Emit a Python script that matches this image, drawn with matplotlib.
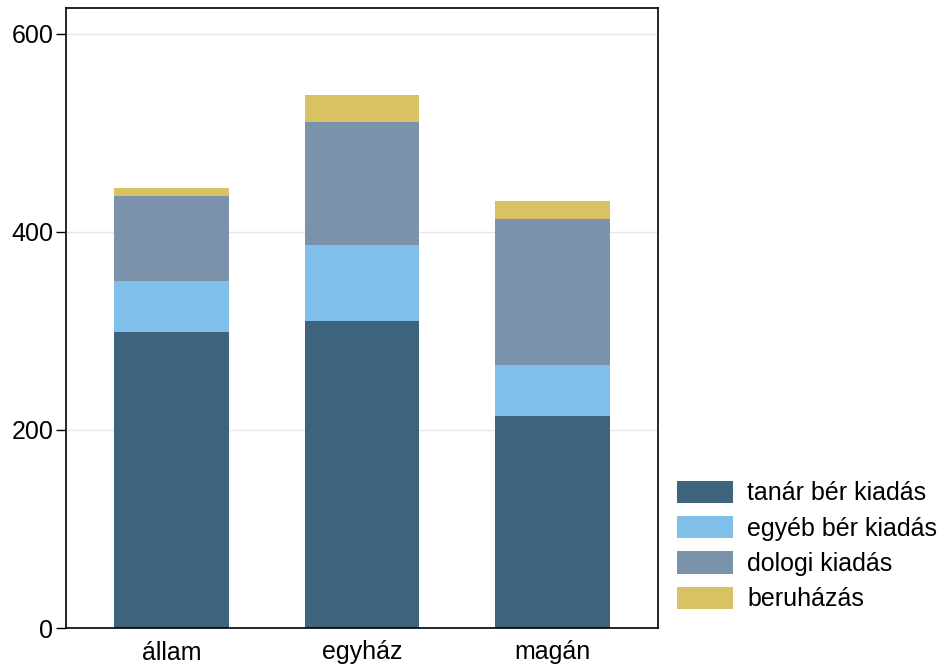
import matplotlib
matplotlib.use("Agg")
import matplotlib.pyplot as plt
import numpy as np

categories = ["állam", "egyház", "magán"]
series_names = ["tanár bér kiadás", "egyéb bér kiadás", "dologi kiadás", "beruházás"]
tanar = [299, 310, 214]
egyeb = [51, 77, 52]
dologi = [86, 124, 147]
beruhazas = [8, 27, 18]
colors = ["#3e647d", "#80bfea", "#7b93aa", "#d9c263"]
yticks = [0, 200, 400, 600]

plt.rcParams['font.family'] = ['Liberation Sans', 'DejaVu Sans']
plt.rcParams['font.size'] = 18

fig = plt.figure(figsize=(9.43, 6.70), dpi=100)
ax = fig.add_axes([66/943, 42/670, (658-66)/943, (628-8)/670])

x = np.arange(len(categories))
bottom = np.zeros(len(categories))
for vals, name, c in zip([tanar, egyeb, dologi, beruhazas], series_names, colors):
    ax.bar(x, vals, width=0.6, bottom=bottom, color=c, label=name, zorder=2)
    bottom += np.array(vals)

ax.set_xlim(-0.554, 2.554)
ax.set_ylim(0, 626)
ax.set_yticks(yticks)
ax.set_xticks(x)
ax.set_xticklabels(categories)
ax.yaxis.grid(True, color="#e6e6e6", linewidth=1, zorder=0)
ax.set_axisbelow(True)
ax.tick_params(axis='x', length=0, pad=9)
ax.tick_params(axis='y', length=7, width=1, direction='out', pad=2)
for s in ax.spines.values():
    s.set_linewidth(1.2)
    s.set_color("black")

fig.legend(loc='center left', bbox_to_anchor=(677/943, (670-546)/670),
           frameon=False, borderpad=0, borderaxespad=0,
           handlelength=2.24, handleheight=1.0, labelspacing=0.42,
           handletextpad=0.57, fontsize=18)

fig.savefig("out.png", dpi=100)
